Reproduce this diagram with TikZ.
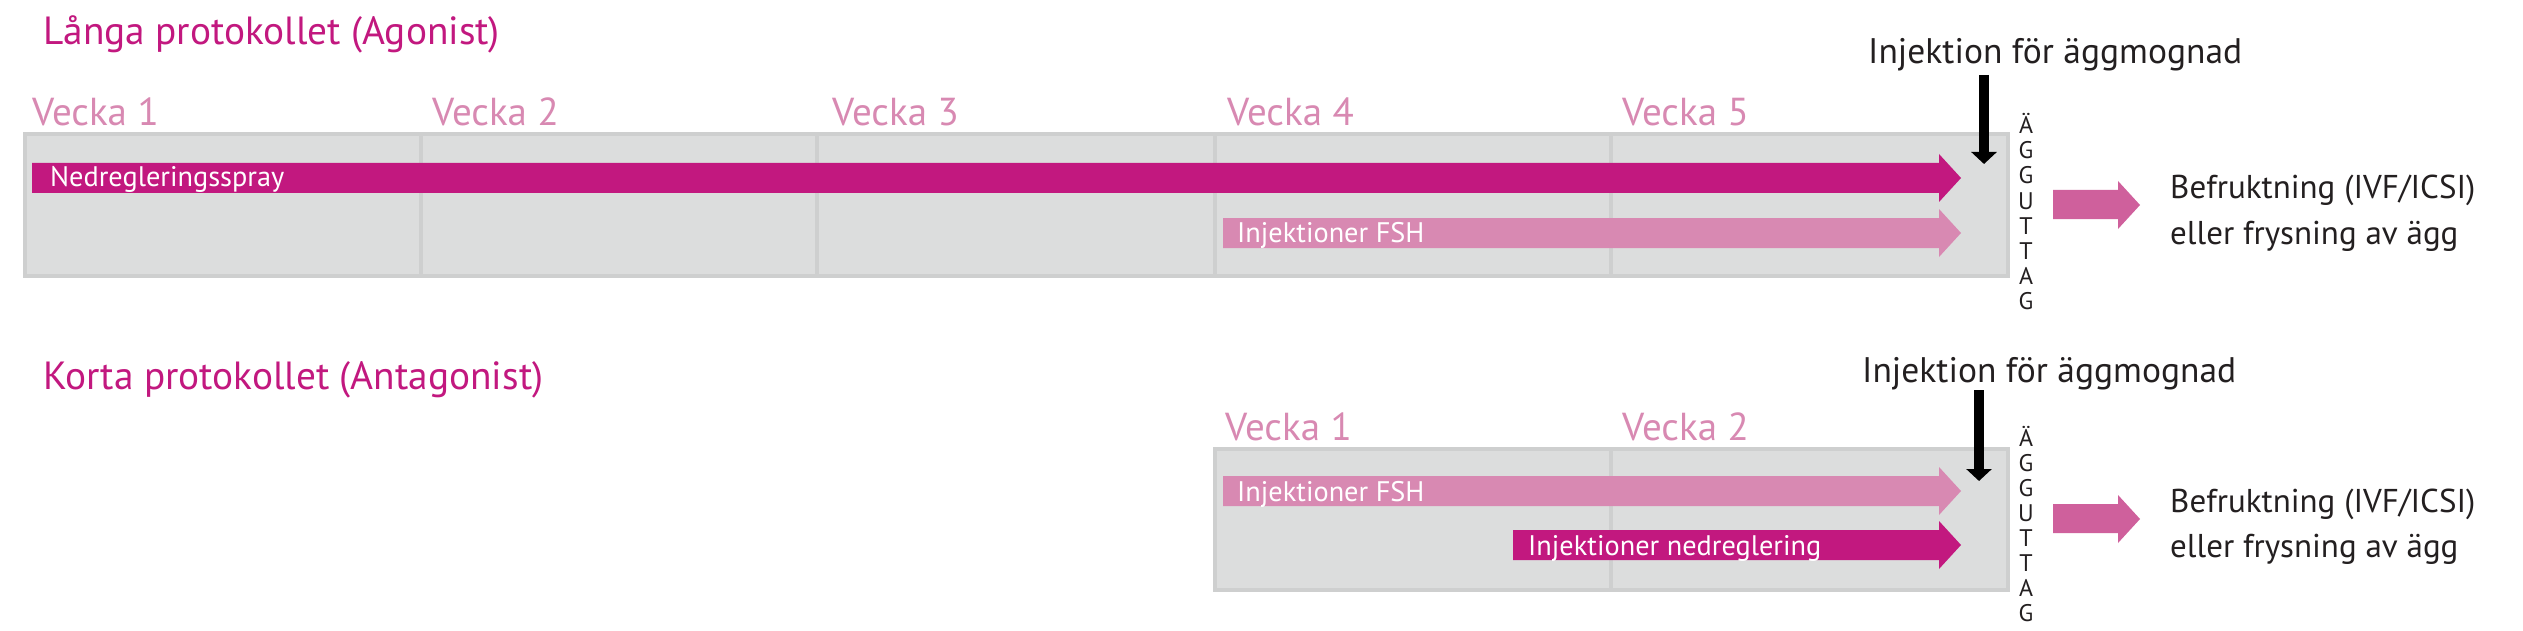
\documentclass[tikz,border=0pt]{standalone}
\usepackage{fontspec}
\setmainfont{PT Sans}
\usetikzlibrary{arrows.meta}
\definecolor{mag}{RGB}{194,24,127}
\definecolor{lpink}{RGB}{216,137,178}
\definecolor{apink}{RGB}{207,96,156}
\definecolor{boxfill}{RGB}{220,221,221}
\definecolor{boxline}{RGB}{206,207,207}
\definecolor{ink}{RGB}{35,31,32}
\newcommand{\blockarrow}[5]{% style, x start, x head, x tip, y centre
  \fill[#1] (#2,{#5-15}) -- (#3,{#5-15}) -- (#3,{#5-24}) -- (#4,#5) -- (#3,{#5+24}) -- (#3,{#5+15}) -- (#2,{#5+15}) -- cycle;}
\begin{document}
\begin{tikzpicture}[x=1pt,y=-1pt,
  title/.style={anchor=base west, inner sep=0, text=mag, font=\fontsize{39.3}{41}\selectfont},
  week/.style={anchor=base west, inner sep=0, text=lpink, font=\fontsize{39}{41}\selectfont},
  bartext/.style={anchor=base west, inner sep=0, text=white, font=\fontsize{28.3}{30}\selectfont},
  note/.style={anchor=base west, inner sep=0, text=ink, font=\fontsize{33}{35}\selectfont},
  injnote/.style={note, font=\fontsize{35.5}{37}\selectfont},
  letter/.style={anchor=base, inner sep=0, text=ink, font=\fontsize{24}{24}\selectfont},
  panel/.style={fill=boxfill, draw=boxline, line width=4pt},
  divider/.style={draw=boxline, line width=4pt},
  inj/.style={line width=10pt, draw=black, -{Triangle[width=25pt,length=12pt]}},
]
\useasboundingbox (0,0) rectangle (2523,631);
\fill[white] (0,0) rectangle (2523,631);

% ---------- Long protocol ----------
\node[title] (t1) at (43,45) {Långa protokollet (Agonist)};
\node[week] (w11) at (32,126) {Vecka 1};
\node[week] (w12) at (432,126) {Vecka 2};
\node[week] (w13) at (832,126) {Vecka 3};
\node[week] (w14) at (1227,126) {Vecka 4};
\node[week] (w15) at (1622,126) {Vecka 5};
\draw[panel] (25,134) rectangle (2008,276);
\foreach \x in {421,817,1215,1611} \draw[divider] (\x,136) -- (\x,274);
\blockarrow{mag}{32}{1939}{1961}{178}
\blockarrow{lpink}{1223}{1939}{1961}{233}
\node[bartext] (b11) at (50,187) {Nedregleringsspray};
\node[bartext] (b12) at (1237,242) {Injektioner FSH};
\node[injnote] (i1) at (1868,64) {Injektion för äggmognad};
\coordinate (i1s) at (1984,75);
\coordinate (i1e) at (1984,164);
\draw[inj] (i1s) -- (i1e);
\foreach \l [count=\k from 0] in {Ä,G,G,U,T,T,A,G}
  \node[letter] (u1\k) at (2026,{134+25*\k}) {\l};
\fill[apink] (2053,190) -- (2118,190) -- (2118,181) -- (2140,205) -- (2118,229) -- (2118,219) -- (2053,219) -- cycle;
\node[note] (r11) at (2170,198) {Befruktning (IVF/ICSI)};
\node[note] (r12) at (2170,244) {eller frysning av ägg};

% ---------- Short protocol ----------
\node[title] (t2) at (43,389) {Korta protokollet (Antagonist)};
\node[week] (w21) at (1225,440) {Vecka 1};
\node[week] (w22) at (1622,440) {Vecka 2};
\draw[panel] (1215,449) rectangle (2008,590);
\draw[divider] (1611,451) -- (1611,588);
\blockarrow{lpink}{1223}{1939}{1961}{491}
\blockarrow{mag}{1513}{1939}{1961}{545}
\node[bartext] (b21) at (1237,501) {Injektioner FSH};
\node[bartext] (b22) at (1528,555) {Injektioner nedreglering};
\node[injnote] (i2) at (1862,382) {Injektion för äggmognad};
\coordinate (i2s) at (1979,390);
\coordinate (i2e) at (1979,481);
\draw[inj] (i2s) -- (i2e);
\foreach \l [count=\k from 0] in {Ä,G,G,U,T,T,A,G}
  \node[letter] (u2\k) at (2026,{446+25.1*\k}) {\l};
\fill[apink] (2053,504) -- (2118,504) -- (2118,495) -- (2140,519) -- (2118,543) -- (2118,533) -- (2053,533) -- cycle;
\node[note] (r21) at (2170,512) {Befruktning (IVF/ICSI)};
\node[note] (r22) at (2170,557) {eller frysning av ägg};
\end{tikzpicture}
\end{document}
